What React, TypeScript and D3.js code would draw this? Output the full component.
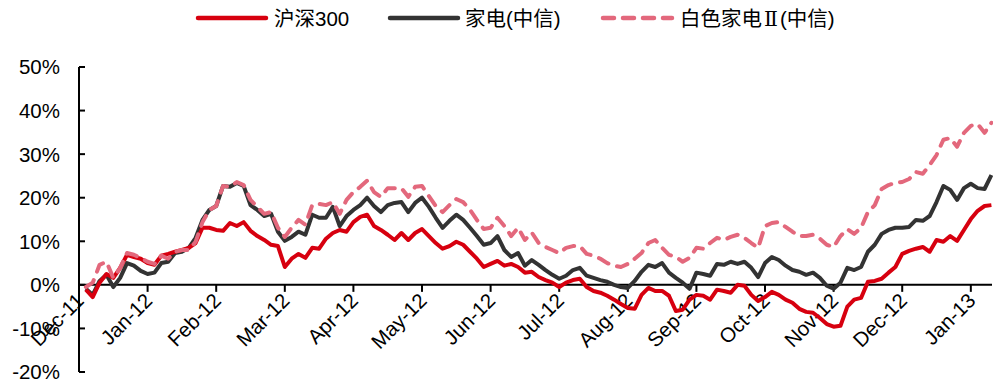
import React from "react";
import * as d3 from "d3";

// Trading-day axis: one value every DAY_STEP sessions, starting at FIRST_DAY
const FIRST_DAY = 2;
const DAY_STEP = 2;
const LAST_DAY = 266;

const monthLabels = [
  "Dec-11", "Jan-12", "Feb-12", "Mar-12", "Apr-12", "May-12", "Jun-12",
  "Jul-12", "Aug-12", "Sep-12", "Oct-12", "Nov-12", "Dec-12", "Jan-13",
];
const DAYS_PER_LABEL = 20;

const yTicks = [50, 40, 30, 20, 10, 0, -10, -20];

// Cumulative return, %
const hs300 = [
  -1.1, -2.8, 0.5, 2.5, 1.6, 3.9, 6.9, 6.4, 6.0, 5.0,
  4.6, 6.7, 7.1, 7.6, 8.0, 8.5, 9.6, 13.1, 13.1, 12.6,
  12.4, 14.2, 13.5, 14.4, 12.4, 11.2, 10.3, 9.2, 8.9, 4.1,
  6.0, 7.1, 6.2, 8.5, 8.3, 10.6, 11.9, 12.6, 12.2, 14.4,
  15.6, 16.1, 13.5, 12.6, 11.5, 10.3, 11.9, 10.3, 11.9, 12.8,
  11.2, 9.6, 8.3, 8.9, 9.9, 9.2, 7.6, 6.0, 4.1, 4.8,
  5.5, 4.4, 4.8, 4.1, 2.8, 3.0, 1.8, 1.1, 0.5, -0.5,
  0.5, 1.1, 1.4, -0.5, -1.4, -1.8, -2.5, -3.4, -4.4, -5.3,
  -5.5, -2.3, -0.7, -1.4, -1.4, -2.5, -6.0, -5.7, -3.4, -2.3,
  -2.5, -3.4, -1.1, -1.4, -1.8, 0, -0.2, -2.3, -3.7, -2.8,
  -1.6, -2.3, -3.4, -4.1, -5.5, -6.2, -6.4, -7.6, -9.0, -9.6,
  -9.4, -5.0, -3.4, -3.0, 0.7, 0.9, 1.4, 2.8, 4.1, 7.1,
  7.8, 8.3, 8.7, 7.6, 10.3, 9.9, 11.2, 10.1, 12.6, 15.1,
  17.0, 18.1, 18.3,
];

const appliances = [
  -0.9, -2.3, 0.9, 2.3, -0.5, 1.6, 5.0, 4.4, 3.2, 2.5,
  2.8, 5.0, 5.3, 7.3, 7.6, 8.5, 10.8, 14.9, 17.2, 18.1,
  22.7, 22.5, 23.4, 22.7, 18.3, 17.2, 15.8, 16.3, 12.2, 10.1,
  11.0, 12.2, 11.5, 16.1, 15.4, 15.4, 17.9, 13.5, 15.8, 17.2,
  18.3, 20.0, 18.1, 16.7, 18.3, 18.8, 19.0, 16.7, 18.8, 20.0,
  17.9, 15.4, 13.1, 14.7, 16.1, 14.9, 13.1, 11.2, 9.2, 9.6,
  11.2, 8.0, 6.4, 7.3, 4.4, 5.7, 4.6, 3.4, 2.3, 1.4,
  2.1, 3.4, 3.9, 2.1, 1.6, 1.1, 0.7, 0, -0.5, -0.7,
  0.9, 3.0, 4.6, 4.1, 5.0, 2.8, 1.6, 0.5, -0.9, 2.8,
  2.5, 2.1, 4.8, 4.6, 5.3, 4.8, 5.3, 3.9, 1.8, 5.0,
  6.4, 5.7, 4.4, 3.4, 3.0, 2.3, 2.8, 1.6, -0.2, -0.9,
  0.5, 3.9, 3.4, 4.1, 7.6, 9.2, 11.7, 12.6, 13.1, 13.1,
  13.3, 14.9, 14.7, 15.8, 19.0, 22.7, 21.8, 19.5, 22.2, 23.2,
  22.2, 22.0, 25.2,
];

const whiteGoods = [
  -0.5, 0.5, 4.6, 5.3, 1.6, 3.9, 7.3, 6.9, 6.2, 5.3,
  4.8, 6.7, 6.0, 7.6, 8.0, 8.0, 9.9, 14.4, 17.2, 18.1,
  22.7, 22.5, 23.6, 22.9, 19.5, 17.9, 16.3, 16.7, 13.1, 11.0,
  13.1, 14.9, 13.8, 18.3, 18.6, 18.3, 19.0, 16.3, 19.5, 21.3,
  22.5, 23.9, 21.3, 20.2, 22.2, 22.2, 22.2, 20.2, 22.5, 22.7,
  20.4, 18.1, 16.7, 18.3, 19.7, 19.0, 17.2, 14.9, 12.8, 13.1,
  15.4, 13.5, 11.2, 13.1, 10.3, 12.0, 9.6, 8.7, 8.0, 7.3,
  8.5, 8.9, 8.9, 7.1, 6.7, 6.0, 5.0, 4.4, 4.1, 4.8,
  6.0, 7.3, 9.6, 10.3, 8.5, 6.9, 6.4, 5.3, 6.2, 8.5,
  8.3, 9.6, 10.8, 10.3, 11.0, 11.5, 10.8, 9.6, 8.5, 13.5,
  14.2, 14.4, 13.3, 12.2, 11.2, 11.2, 11.5, 10.6, 9.2, 8.7,
  11.2, 12.8, 11.7, 13.1, 16.7, 18.3, 22.0, 22.9, 23.4, 23.6,
  24.3, 25.9, 25.5, 27.5, 29.8, 33.3, 33.7, 31.7, 34.9, 36.5,
  36.9, 34.9, 37.2,
];

const RED = "#D7000F";
const DARK = "#333333";
const PINK = "#E3687C";
const DASH = "11 9";

const WIDTH = 993;
const HEIGHT = 385;
const FONT = '"Liberation Sans", Arial, "Noto Sans CJK SC", sans-serif';
const SERIF = '"Liberation Serif", "DejaVu Serif", serif';

const x = d3.scaleLinear().domain([0, LAST_DAY]).range([79, 991.4]);
const y = d3.scaleLinear().domain([-20, 50]).range([372, 67]);

const line = d3
  .line<number>()
  .x((_, i) => x(FIRST_DAY + i * DAY_STEP))
  .y((d) => y(d));

const series = [
  { name: "家电(中信)", values: appliances, color: DARK, dash: undefined as string | undefined },
  { name: "沪深300", values: hs300, color: RED, dash: undefined as string | undefined },
  { name: "白色家电Ⅱ(中信)", values: whiteGoods, color: PINK, dash: DASH },
];

export default function App() {
  const zeroY = y(0);
  const axisX = x(0);
  return (
    <svg
      width={WIDTH}
      height={HEIGHT}
      style={{ position: "absolute", left: 0, top: 0, background: "#fff" }}
      fontFamily={FONT}
    >
      <rect width={WIDTH} height={HEIGHT} fill="#fff" />

      {/* legend */}
      <g>
        <line x1={198} x2={266} y1={18} y2={18} stroke={RED} strokeWidth={4.5} strokeLinecap="round" />
        <text x={274} y={26} fontSize={20.5} fill="#000">沪深300</text>

        <line x1={390} x2={458} y1={18} y2={18} stroke={DARK} strokeWidth={4.5} strokeLinecap="round" />
        <text x={465} y={26} fontSize={20.5} fill="#000">家电(中信)</text>

        <line
          x1={603}
          x2={672}
          y1={18}
          y2={18}
          stroke={PINK}
          strokeWidth={4.5}
          strokeLinecap="round"
          strokeDasharray={DASH}
        />
        <text x={680} y={26} fontSize={20.5} fill="#000">
          白色家电<tspan fontFamily={SERIF} dx={2}>Ⅱ</tspan>
          <tspan dx={2}>(中信)</tspan>
        </text>
      </g>

      {/* y axis */}
      <line x1={axisX} x2={axisX} y1={y(50)} y2={y(-20)} stroke="#000" strokeWidth={2} />
      {yTicks.map((t) => (
        <g key={t}>
          <line x1={axisX} x2={axisX + 6} y1={y(t)} y2={y(t)} stroke="#000" strokeWidth={2} />
          <text x={60} y={y(t)} dy="0.36em" textAnchor="end" fontSize={20.5} fill="#000">
            {`${t}%`}
          </text>
        </g>
      ))}

      {/* x axis on the zero line */}
      <line x1={axisX} x2={992} y1={zeroY} y2={zeroY} stroke="#000" strokeWidth={2} />
      {monthLabels.map((m, k) => {
        const tx = x(k * DAYS_PER_LABEL);
        return (
          <g key={m}>
            <line x1={tx} x2={tx} y1={zeroY} y2={zeroY + 7} stroke="#000" strokeWidth={2} />
            <text
              transform={`translate(${tx + 6},${zeroY + 17}) rotate(-45)`}
              textAnchor="end"
              fontSize={20.5}
              fill="#000"
            >
              {m}
            </text>
          </g>
        );
      })}

      {/* series */}
      {series.map((s) => (
        <path
          key={s.name}
          d={line(s.values) ?? ""}
          fill="none"
          stroke={s.color}
          strokeWidth={4}
          strokeLinejoin="round"
          strokeLinecap={s.dash ? "round" : "butt"}
          strokeDasharray={s.dash}
        />
      ))}
    </svg>
  );
}
